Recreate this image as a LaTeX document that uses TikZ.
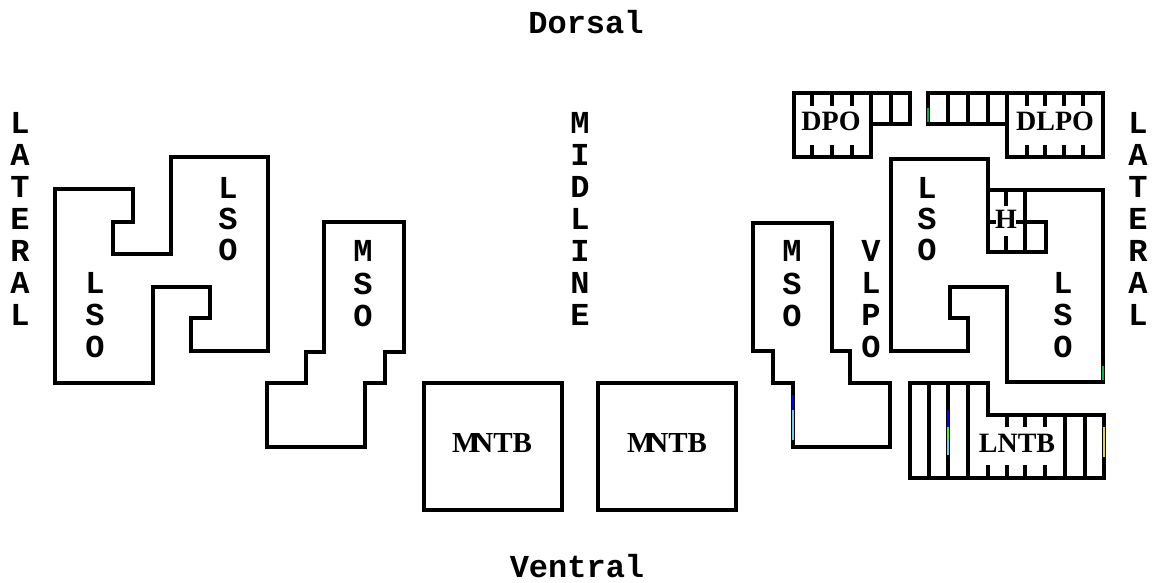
\documentclass[tikz,border=0pt]{standalone}
\usepackage{fontspec}
\setmainfont{Liberation Serif}
\newfontfamily\monofam{Liberation Mono}
\begin{document}
\begin{tikzpicture}[x=1pt,y=-1pt,
  outline/.style={line width=3.6pt, line join=miter},
  hatch/.style={line width=3.2pt},
  mlbl/.style={font=\monofam\bfseries\fontsize{32}{32}\selectfont, inner sep=0pt},
  tlbl/.style={font=\bfseries\fontsize{28}{28}\selectfont, inner sep=0pt},
  blbl/.style={font=\bfseries\fontsize{29}{29}\selectfont, inner sep=0pt},
  artifact/.style={line width=2pt}]
\useasboundingbox[fill=white] (0,0) rectangle (1158,583);

% titles
\node[mlbl] (dorsal) at (586,22) {Dorsal};
\node[mlbl] (ventral) at (577,566) {Ventral};

% vertical words
\foreach \c [count=\i from 0] in {L,A,T,E,R,A,L} {
  \node[mlbl] (latL\i) at (20,{123+32*\i}) {\c};
  \node[mlbl] (latR\i) at (1138,{123+32*\i}) {\c};
}
\foreach \c [count=\i from 0] in {M,I,D,L,I,N,E} {
  \node[mlbl] (mid\i) at (580,{123+32*\i}) {\c};
}

% left LSO
\draw[outline] (55,189) -- (133,189) -- (133,222) -- (113,222) -- (113,254) -- (171,254)
  -- (171,157) -- (268,157) -- (268,351) -- (191,351) -- (191,318) -- (210,318)
  -- (210,287) -- (153,287) -- (153,383) -- (55,383) -- cycle;
\foreach \c [count=\i from 0] in {L,S,O} {
  \node[mlbl] (lsoLu\i) at (228,{188+31*\i}) {\c};
  \node[mlbl] (lsoLl\i) at (95,{283+32*\i}) {\c};
}

% left MSO
\draw[outline] (324,222) -- (404,222) -- (404,352) -- (385,352) -- (385,383) -- (365,383)
  -- (365,447) -- (267,447) -- (267,383) -- (306,383) -- (306,352) -- (324,352) -- cycle;
\foreach \c [count=\i from 0] in {M,S,O} {
  \node[mlbl] (msoL\i) at (363,{251+32.5*\i}) {\c};
}

% MNTB boxes
\draw[outline] (424,383) rectangle (562,510);
\draw[outline] (598,383) rectangle (736,510);
\node[blbl] (mntbL) at (492,443) {M\kern-7pt NTB};
\node[blbl] (mntbR) at (667,443) {M\kern-7pt NTB};

% right MSO
\draw[outline] (753,223) -- (832,223) -- (832,351) -- (850,351) -- (850,383) -- (890,383)
  -- (890,447) -- (793,447) -- (793,383) -- (773,383) -- (773,351) -- (753,351) -- cycle;
\foreach \c [count=\i from 0] in {M,S,O} {
  \node[mlbl] (msoR\i) at (792,{251+32.5*\i}) {\c};
}
% VLPO
\foreach \c [count=\i from 0] in {V,L,P,O} {
  \node[mlbl] (vlpo\i) at (871,{251+32*\i}) {\c};
}

% right LSO
\draw[outline] (891,159) -- (988,159) -- (988,190) -- (1103,190) -- (1103,382) -- (1007,382)
  -- (1007,287) -- (950,287) -- (950,318) -- (968,318) -- (968,351) -- (891,351) -- cycle;
\foreach \c [count=\i from 0] in {L,S,O} {
  \node[mlbl] (lsoRu\i) at (927,{188+31*\i}) {\c};
  \node[mlbl] (lsoRl\i) at (1063,{283+32*\i}) {\c};
}

% H region
\draw[outline] (988,190) -- (988,252) -- (1046,252) -- (1046,222) -- (1016,222);
\draw[hatch] (996,222) -- (988,222);
\draw[hatch] (1025,190) -- (1025,252);
\draw[hatch] (1006,190) -- (1006,206);
\draw[hatch] (1006,236) -- (1006,252);
\node[tlbl] (hlbl) at (1006,219) {H};

% DPO
\draw[outline] (794,93) -- (910,93) -- (910,124) -- (871,124) -- (871,157) -- (794,157) -- cycle;
\draw[hatch] (871,93) -- (871,124);
\draw[hatch] (891,93) -- (891,124);
\foreach \x in {812,832,852} {
  \draw[hatch] (\x,93) -- (\x,106);
  \draw[hatch] (\x,145) -- (\x,157);
}
\node[tlbl] (dpo) at (831,121) {DPO};

% DLPO
\draw[outline] (928,93) -- (1103,93) -- (1103,157) -- (1007,157) -- (1007,124) -- (928,124) -- cycle;
\foreach \x in {948,968,988,1007} {
  \draw[hatch] (\x,93) -- (\x,124);
}
\foreach \x in {1027,1045,1064,1083} {
  \draw[hatch] (\x,93) -- (\x,106);
  \draw[hatch] (\x,145) -- (\x,157);
}
\node[tlbl] (dlpo) at (1055,121) {DLPO};

% LNTB
\draw[outline] (910,383) -- (988,383) -- (988,415) -- (1104,415) -- (1104,478) -- (910,478) -- cycle;
\foreach \x in {929,948,968} {
  \draw[hatch] (\x,383) -- (\x,478);
}
\foreach \x in {1065,1085} {
  \draw[hatch] (\x,415) -- (\x,478);
}
\draw[hatch] (988,465) -- (988,478);
\foreach \x in {1007,1025,1045} {
  \draw[hatch] (\x,415) -- (\x,427);
  \draw[hatch] (\x,465) -- (\x,478);
}
\node[tlbl] (lntb) at (1017,443) {LNTB};

% scan colour specks
\draw[artifact, blue] (793,395) -- (793,410);
\draw[artifact, cyan!60!white] (793,410) -- (793,440);
\draw[artifact, blue] (948,410) -- (948,427);
\draw[artifact, green!70!yellow] (948,427) -- (948,440);
\draw[artifact, cyan!60!white] (948,440) -- (948,455);
\draw[artifact, yellow!90!black] (1104,427) -- (1104,457);
\draw[artifact, teal!60!green] (1103,366) -- (1103,380);
\draw[artifact, teal!60!green] (928,108) -- (928,122);
\end{tikzpicture}
\end{document}
